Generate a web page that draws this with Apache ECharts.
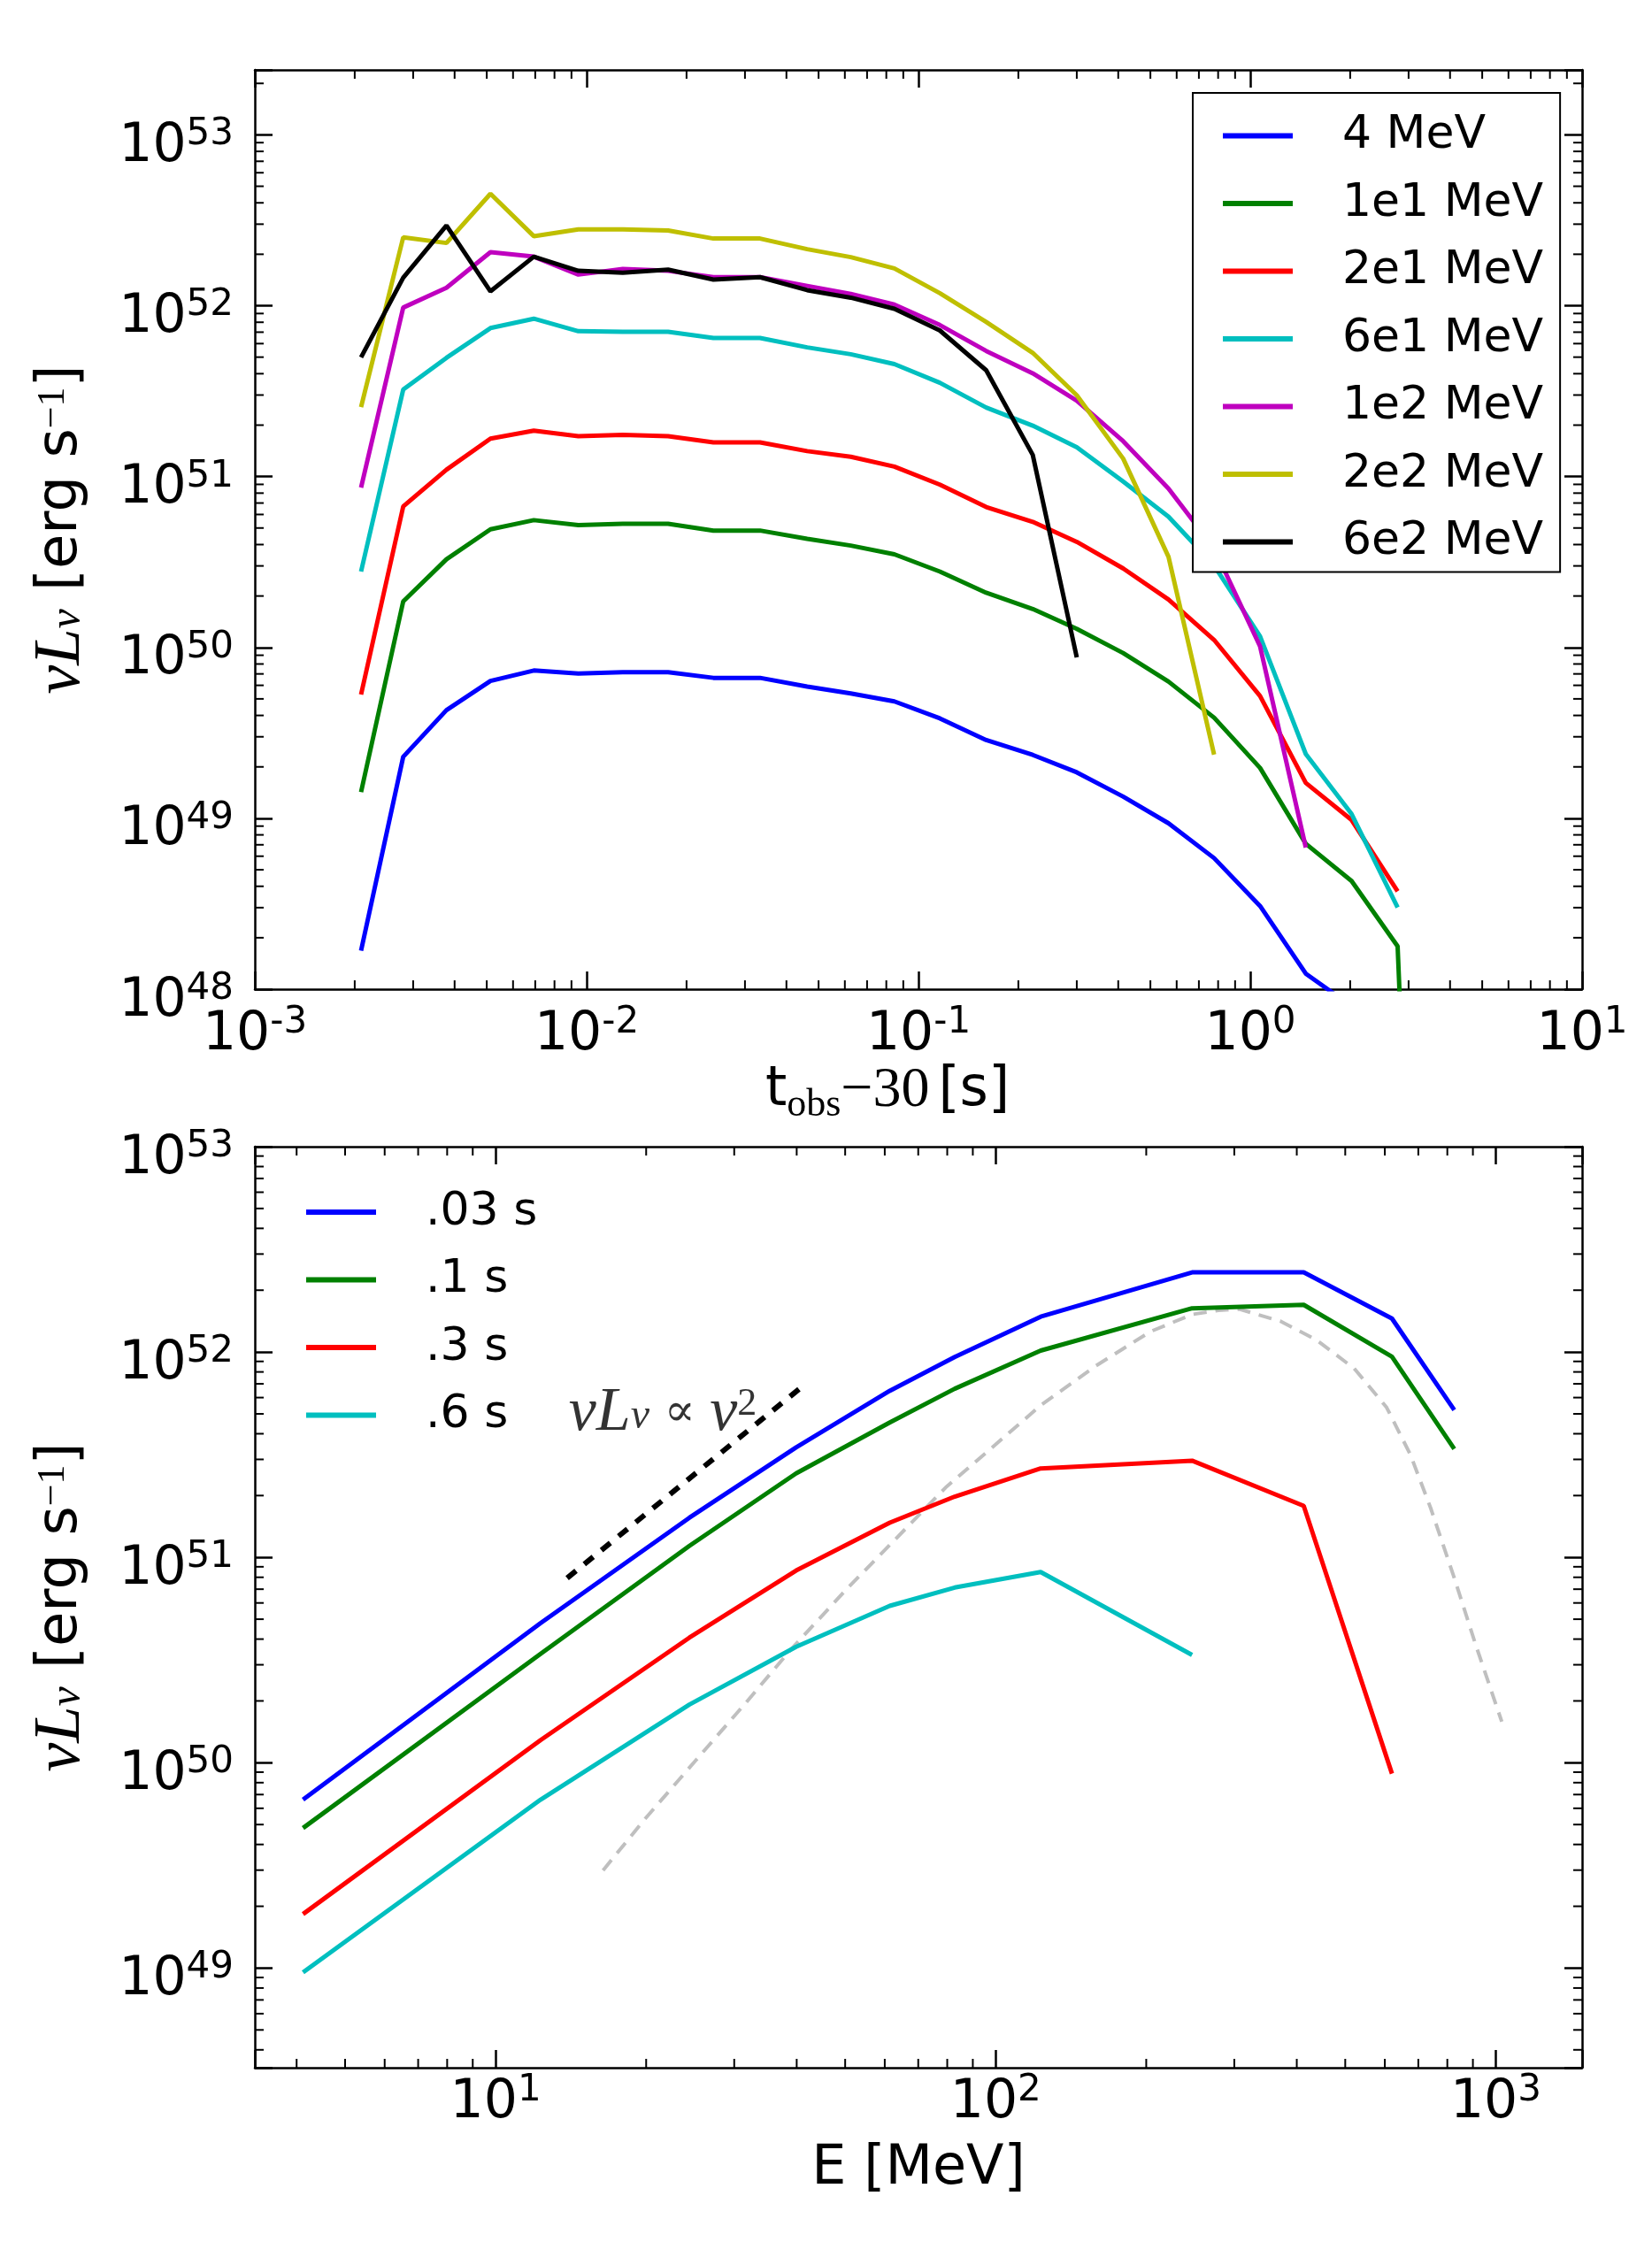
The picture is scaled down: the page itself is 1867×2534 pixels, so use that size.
<!DOCTYPE html>
<html>
<head>
<meta charset="utf-8">
<script src="https://cdn.jsdelivr.net/npm/echarts@6/dist/echarts.min.js"></script>
<style>
html, body { margin: 0; padding: 0; background: #fff; }
#main { width: 1867px; height: 2534px; }
</style>
</head>
<body>
<div id="main"></div>
<script>
// ---- top panel: light curves, log10(nu L_nu) against t_obs - 30 [s]
var lcTime = [0.00209, 0.0028, 0.00378, 0.00513, 0.00693, 0.00944, 0.01285, 0.0176, 0.0241, 0.0333,
  0.0462, 0.0625, 0.0846, 0.116, 0.16, 0.221, 0.30, 0.414, 0.567, 0.778, 1.07, 1.47, 2.02, 2.78, 3.78];
var lc4MeV   = [48.225, 49.36, 49.633, 49.804, 49.865, 49.847, 49.855, 49.855, 49.822, 49.822, 49.771, 49.731,
  49.684, 49.585, 49.458, 49.371, 49.269, 49.127, 48.971, 48.767, 48.487, 48.091, 47.90, 47.70];
var lc1e1MeV = [49.153, 50.269, 50.516, 50.691, 50.745, 50.716, 50.724, 50.724, 50.684, 50.684, 50.636, 50.596,
  50.545, 50.444, 50.32, 50.225, 50.109, 49.967, 49.8, 49.589, 49.295, 48.851, 48.633, 48.251, 42.0];
var lc2e1MeV = [49.724, 50.825, 51.04, 51.222, 51.269, 51.236, 51.244, 51.236, 51.2, 51.2, 51.149, 51.116,
  51.058, 50.953, 50.822, 50.735, 50.618, 50.462, 50.28, 50.044, 49.716, 49.207, 48.99, 48.573];
var lc6e1MeV = [50.444, 51.509, 51.695, 51.869, 51.924, 51.851, 51.847, 51.847, 51.811, 51.811, 51.756, 51.716,
  51.658, 51.549, 51.404, 51.298, 51.171, 50.971, 50.765, 50.48, 50.065, 49.376, 49.025, 48.478];
var lc1e2MeV = [50.935, 51.989, 52.105, 52.313, 52.287, 52.182, 52.215, 52.204, 52.167, 52.167, 52.116, 52.069,
  52.007, 51.887, 51.735, 51.604, 51.444, 51.207, 50.93, 50.58, 50.007, 48.829];
var lc2e2MeV = [51.407, 52.4, 52.367, 52.655, 52.407, 52.447, 52.447, 52.44, 52.393, 52.393, 52.331, 52.284,
  52.218, 52.073, 51.905, 51.724, 51.476, 51.105, 50.53, 49.373];
var lc6e2MeV = [51.698, 52.164, 52.469, 52.084, 52.287, 52.204, 52.193, 52.211, 52.153, 52.167, 52.091, 52.047,
  51.982, 51.855, 51.622, 51.127, 49.942];
var lcNames  = ['4 MeV', '1e1 MeV', '2e1 MeV', '6e1 MeV', '1e2 MeV', '2e2 MeV', '6e2 MeV'];
var lcColors = ['#0000ff', '#008000', '#ff0000', '#00bfbf', '#bf00bf', '#bfbf00', '#000000'];

// ---- bottom panel: spectra, log10(nu L_nu) against E [MeV]
var specE  = [4.12, 12.3, 24.4, 39.9, 61.4, 82.8, 123, 247, 413, 620, 826];
var sp003s = [49.82, 50.68, 51.193, 51.536, 51.811, 51.976, 52.172, 52.388, 52.388, 52.163, 51.718];
var sp01s  = [49.682, 50.53, 51.056, 51.409, 51.657, 51.821, 52.007, 52.213, 52.23, 51.977, 51.528];
var sp03s  = [49.263, 50.11, 50.609, 50.936, 51.169, 51.296, 51.433, 51.471, 51.251, 49.947];
var sp06s  = [48.979, 49.82, 50.283, 50.565, 50.764, 50.853, 50.929, 50.525];
var spNames  = ['.03 s', '.1 s', '.3 s', '.6 s'];
var spColors = ['#0000ff', '#008000', '#ff0000', '#00bfbf'];

// grey dashed model curve
var modelE = [16.4, 19.95, 25.1, 31.6, 38.9, 50.1, 63.1, 79.4, 100, 123, 158, 204, 247, 279, 307, 371, 437,
  521, 605, 675, 741, 826, 910, 1028];
var modelL = [49.476, 49.73, 50.01, 50.29, 50.55, 50.84, 51.09, 51.34, 51.55, 51.74, 51.93, 52.10, 52.183,
  52.203, 52.209, 52.15, 52.06, 51.92, 51.73, 51.50, 51.24, 50.90, 50.58, 50.20];
// nu^2 guide
var guideE = [13.9, 40.6];
var guideL = [50.899, 51.823];
var noteAt = [14.0, 51.709];

var FONT = 'DejaVu Sans';
var MATH = 'Liberation Serif';

function pairs(xs, logs) {
  return logs.map(function (v, i) { return [xs[i], Math.pow(10, v)]; });
}

function expLabel(v) {
  var e = Math.log10(v);
  var r = Math.round(e);
  if (Math.abs(e - r) > 1e-6) return '';
  return '{b|10}{s|' + r + '}';
}

var tickRich = {
  b: { fontFamily: FONT, fontSize: 60, lineHeight: 60, padding: [28, 0, 0, 0], color: '#000' },
  s: { fontFamily: FONT, fontSize: 42, lineHeight: 42, padding: [9, 0, 0, 0], verticalAlign: 'top', color: '#000' }
};

function axis(gridIndex, position, min, max, labelOpt, extra) {
  var a = {
    type: 'log', logBase: 10, gridIndex: gridIndex, position: position, min: min, max: max,
    splitLine: { show: false },
    axisLine: { show: true, onZero: false, lineStyle: { color: '#000', width: 2.5 } },
    axisTick: { show: true, inside: true, length: 20, lineStyle: { color: '#000', width: 2.5 } },
    axisLabel: labelOpt
      ? Object.assign({ show: true, interval: 0, formatter: expLabel, rich: tickRich, color: '#000' }, labelOpt)
      : { show: false }
  };
  if (extra) Object.assign(a, extra);
  return a;
}

var yNameStyle = {
  color: '#000',
  rich: {
    m:   { fontFamily: MATH, fontStyle: 'italic', fontSize: 74, lineHeight: 64, padding: [15, 0, 17, 0], color: '#000' },
    sub: { fontFamily: MATH, fontStyle: 'italic', fontSize: 50, lineHeight: 46, verticalAlign: 'bottom', color: '#000' },
    t:   { fontFamily: FONT, fontSize: 64, lineHeight: 64, padding: [15, 0, 17, 0], color: '#000' },
    sup: { fontFamily: MATH, fontSize: 44, lineHeight: 42, verticalAlign: 'top', color: '#000' }
  }
};
var yName = {
  name: '{m|νL}{sub|ν}{t| [erg s}{sup|−1}{t|]}',
  nameLocation: 'middle', nameRotate: 90, nameGap: 160, nameTextStyle: yNameStyle
};

var minY1 = 1e48, maxY1 = Math.pow(10, 53.38);
var minY2 = Math.pow(10, 48.515), maxY2 = 1e53;
var minX1 = 1e-3, maxX1 = 10;
var minX2 = 3.3, maxX2 = 1488;

// minor tick positions (2..9 x 10^k) inside the axis ranges
function minorTicks(minX, maxX, minY, maxY) {
  var out = [];
  function add(lo, hi, kind) {
    for (var k = Math.floor(Math.log10(lo)); k <= Math.ceil(Math.log10(hi)); k++) {
      for (var m = 2; m <= 9; m++) {
        var v = m * Math.pow(10, k);
        if (v > lo && v < hi) out.push(kind === 0 ? [v, minY, 0] : [minX, v, 1]);
      }
    }
  }
  add(minX, maxX, 0);
  add(minY, maxY, 1);
  return out;
}

function tickItem(params, api) {
  var cs = params.coordSys;
  var p = api.coord([api.value(0), api.value(1)]);
  var len = 10;
  var st = { stroke: '#000', lineWidth: 2 };
  var segs;
  if (api.value(2) === 0) {
    segs = [[p[0], cs.y + cs.height, p[0], cs.y + cs.height - len], [p[0], cs.y, p[0], cs.y + len]];
  } else {
    segs = [[cs.x, p[1], cs.x + len, p[1]], [cs.x + cs.width, p[1], cs.x + cs.width - len, p[1]]];
  }
  return {
    type: 'group',
    children: segs.map(function (s) {
      return { type: 'line', shape: { x1: s[0], y1: s[1], x2: s[2], y2: s[3] }, style: st };
    })
  };
}

var LW = 5;
var series = [];
[lc4MeV, lc1e1MeV, lc2e1MeV, lc6e1MeV, lc1e2MeV, lc2e2MeV, lc6e2MeV].forEach(function (vals, i) {
  series.push({
    name: lcNames[i], type: 'line', xAxisIndex: 0, yAxisIndex: 0,
    data: pairs(lcTime, vals), showSymbol: false, symbol: 'none',
    lineStyle: { color: lcColors[i], width: LW }, itemStyle: { color: lcColors[i] }
  });
});
series.push({
  name: 'model', type: 'line', xAxisIndex: 2, yAxisIndex: 2, data: pairs(modelE, modelL),
  showSymbol: false, symbol: 'none', lineStyle: { color: '#bfbfbf', width: 4, type: [15, 10] }
});
[sp003s, sp01s, sp03s, sp06s].forEach(function (vals, i) {
  series.push({
    name: spNames[i], type: 'line', xAxisIndex: 2, yAxisIndex: 2,
    data: pairs(specE, vals), showSymbol: false, symbol: 'none',
    lineStyle: { color: spColors[i], width: LW }, itemStyle: { color: spColors[i] }
  });
});
series.push({
  name: 'guide', type: 'line', xAxisIndex: 2, yAxisIndex: 2, data: pairs(guideE, guideL),
  showSymbol: false, symbol: 'none', lineStyle: { color: '#000', width: 6, type: [13, 12] }
});
series.push({
  name: 'note', type: 'scatter', xAxisIndex: 2, yAxisIndex: 2, data: pairs([noteAt[0]], [noteAt[1]]),
  symbolSize: 0, silent: true,
  label: {
    show: true, position: 'right', distance: 0,
    formatter: '{m|νL}{sub|ν}{op| ∝ }{m|ν}{sup|2}',
    rich: {
      m:   { fontFamily: MATH, fontStyle: 'italic', fontSize: 70, lineHeight: 60, padding: [18, 0, 14, 0], color: '#000' },
      sub: { fontFamily: MATH, fontStyle: 'italic', fontSize: 48, lineHeight: 42, verticalAlign: 'bottom', color: '#000' },
      op:  { fontFamily: 'DejaVu Serif', fontSize: 52, lineHeight: 60, padding: [18, 0, 14, 0], color: '#000' },
      sup: { fontFamily: MATH, fontSize: 44, lineHeight: 40, verticalAlign: 'top', color: '#000' }
    }
  }
});
series.push({
  type: 'custom', xAxisIndex: 0, yAxisIndex: 0, silent: true, renderItem: tickItem,
  data: minorTicks(minX1, maxX1, minY1, maxY1)
});
series.push({
  type: 'custom', xAxisIndex: 2, yAxisIndex: 2, silent: true, renderItem: tickItem,
  data: minorTicks(minX2, maxX2, minY2, maxY2)
});

var legendBase = {
  orient: 'vertical', itemGap: 16.5, itemWidth: 79, itemHeight: 6, icon: 'rect',
  selectedMode: false, itemStyle: { borderWidth: 0 },
  textStyle: { fontFamily: FONT, fontSize: 52, lineHeight: 60, color: '#000', padding: [0, 0, 0, 51] }
};

var option = {
  animation: false,
  backgroundColor: '#fff',
  grid: [
    { left: 288, top: 79, width: 1500, height: 1039 },
    { left: 288, top: 1296, width: 1500, height: 1041 }
  ],
  legend: [
    Object.assign({}, legendBase, {
      data: lcNames, left: 1348, top: 105, padding: [18.5, 19, 4, 34],
      borderColor: '#000', borderWidth: 2, borderRadius: 0, backgroundColor: '#fff'
    }),
    Object.assign({}, legendBase, { data: spNames, left: 346, top: 1340, padding: 0 })
  ],
  xAxis: [
    axis(0, 'bottom', minX1, maxX1, { margin: 8 }, {
      name: '{t|t}{sub|obs}{m|−30}{t|[s]}', nameLocation: 'middle', nameGap: 87,
      nameTextStyle: {
        color: '#000', padding: [0, 70, 0, 0],
        rich: {
          t:   { fontFamily: FONT, fontSize: 62, lineHeight: 62, padding: [0, 0, 15, 0], color: '#000' },
          m:   { fontFamily: MATH, fontSize: 64, lineHeight: 62, padding: [0, 10, 15, 0], color: '#000' },
          sub: { fontFamily: MATH, fontSize: 44, lineHeight: 44, verticalAlign: 'bottom', color: '#000' }
        }
      }
    }),
    axis(0, 'top', minX1, maxX1, null),
    axis(1, 'bottom', minX2, maxX2, { margin: -4 }, {
      name: 'E [MeV]', nameLocation: 'middle', nameGap: 84,
      nameTextStyle: { fontFamily: FONT, fontSize: 62, lineHeight: 62, color: '#000' }
    }),
    axis(1, 'top', minX2, maxX2, null)
  ],
  yAxis: [
    axis(0, 'left', minY1, maxY1, { margin: 24 }, yName),
    axis(0, 'right', minY1, maxY1, null),
    axis(1, 'left', minY2, maxY2, { margin: 24 }, yName),
    axis(1, 'right', minY2, maxY2, null)
  ],
  series: series
};

var chart = echarts.init(document.getElementById('main'));
chart.setOption(option);
</script>
</body>
</html>
